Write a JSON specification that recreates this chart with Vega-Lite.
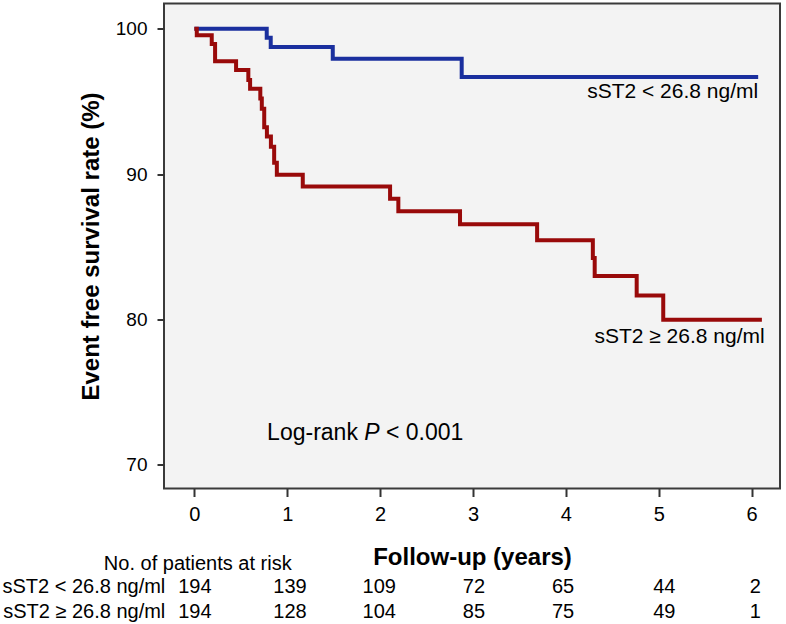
{
  "$schema": "https://vega.github.io/schema/vega-lite/v6.json",
  "autosize": "none",
  "width": 616,
  "height": 485,
  "padding": {"left": 164, "top": 3.5, "right": 6, "bottom": 135.5},
  "background": "white",
  "config": {
    "font": "Liberation Sans, Arial, sans-serif",
    "view": {"fill": "#f3f3f3", "stroke": "#3a3a3a", "strokeWidth": 2}
  },
  "datasets": {
    "curves": [
      {"group": "low", "t": 0, "s": 100},
      {"group": "low", "t": 0.779, "s": 99.39},
      {"group": "low", "t": 0.822, "s": 98.74},
      {"group": "low", "t": 1.49, "s": 97.94},
      {"group": "low", "t": 2.878, "s": 96.68},
      {"group": "low", "t": 6.07, "s": 96.68},
      {"group": "high", "t": 0, "s": 100},
      {"group": "high", "t": 0.026, "s": 99.55},
      {"group": "high", "t": 0.187, "s": 98.95},
      {"group": "high", "t": 0.223, "s": 97.76},
      {"group": "high", "t": 0.449, "s": 97.17},
      {"group": "high", "t": 0.581, "s": 96.48},
      {"group": "high", "t": 0.6, "s": 95.88},
      {"group": "high", "t": 0.71, "s": 95.2},
      {"group": "high", "t": 0.726, "s": 94.5},
      {"group": "high", "t": 0.752, "s": 93.23},
      {"group": "high", "t": 0.781, "s": 92.58},
      {"group": "high", "t": 0.824, "s": 91.88},
      {"group": "high", "t": 0.859, "s": 90.78},
      {"group": "high", "t": 0.888, "s": 89.95},
      {"group": "high", "t": 1.167, "s": 89.15},
      {"group": "high", "t": 2.107, "s": 88.31},
      {"group": "high", "t": 2.196, "s": 87.45},
      {"group": "high", "t": 2.86, "s": 86.54},
      {"group": "high", "t": 3.69, "s": 85.44},
      {"group": "high", "t": 4.29, "s": 84.22},
      {"group": "high", "t": 4.31, "s": 82.98},
      {"group": "high", "t": 4.762, "s": 81.65},
      {"group": "high", "t": 5.048, "s": 79.98},
      {"group": "high", "t": 6.11, "s": 79.98}
    ],
    "curveLabels": [
      {"t": 6.07, "s": 95.64, "label": "sST2 < 26.8 ng/ml"},
      {"t": 6.14, "s": 78.76, "label": "sST2 ≥ 26.8 ng/ml"}
    ],
    "logrank": [
      {"t": 0.783, "s": 72.15, "label": "Log-rank"},
      {"t": 2.063, "s": 72.15, "label": "< 0.001"}
    ],
    "logrankP": [
      {"t": 1.829, "s": 72.15, "label": "P"}
    ],
    "riskNumbers": [
      {"t": 0.005, "s": 61.56, "label": "194"},
      {"t": 1.03, "s": 61.56, "label": "139"},
      {"t": 1.99, "s": 61.56, "label": "109"},
      {"t": 3.01, "s": 61.56, "label": "72"},
      {"t": 3.97, "s": 61.56, "label": "65"},
      {"t": 5.06, "s": 61.56, "label": "44"},
      {"t": 6.04, "s": 61.56, "label": "2"},
      {"t": 0.005, "s": 59.87, "label": "194"},
      {"t": 1.03, "s": 59.87, "label": "128"},
      {"t": 1.99, "s": 59.87, "label": "104"},
      {"t": 3.01, "s": 59.87, "label": "85"},
      {"t": 3.97, "s": 59.87, "label": "75"},
      {"t": 5.06, "s": 59.87, "label": "49"},
      {"t": 6.04, "s": 59.87, "label": "1"}
    ],
    "riskLabels": [
      {"t": 1.048, "s": 63.19, "label": "No. of patients at risk"},
      {"t": -0.313, "s": 61.56, "label": "sST2 < 26.8 ng/ml"},
      {"t": -0.313, "s": 59.87, "label": "sST2 ≥ 26.8 ng/ml"}
    ]
  },
  "encoding": {
    "x": {
      "field": "t",
      "type": "quantitative",
      "scale": {"domain": [-0.327, 6.305], "nice": false, "zero": false},
      "axis": {
        "values": [0, 1, 2, 3, 4, 5, 6],
        "title": "Follow-up (years)",
        "titleFontSize": 24,
        "titleFontWeight": "bold",
        "titleColor": "#000000",
        "titlePadding": 21,
        "labelFontSize": 20,
        "labelColor": "#000000",
        "labelPadding": 8,
        "labelFlush": false,
        "tickSize": 8,
        "tickWidth": 2,
        "tickColor": "#333333",
        "domain": false,
        "grid": false
      }
    },
    "y": {
      "field": "s",
      "type": "quantitative",
      "scale": {"domain": [68.36, 101.74], "nice": false, "zero": false},
      "axis": {
        "values": [70, 80, 90, 100],
        "title": "Event free survival rate (%)",
        "titleFontSize": 24,
        "titleFontWeight": "bold",
        "titleColor": "#000000",
        "titlePadding": 12,
        "labelFontSize": 19,
        "labelColor": "#000000",
        "labelPadding": 10,
        "labelFlush": false,
        "tickSize": 7,
        "tickWidth": 2,
        "tickColor": "#333333",
        "domain": false,
        "grid": false
      }
    }
  },
  "layer": [
    {
      "data": {"name": "curves"},
      "mark": {"type": "line", "interpolate": "step-after", "strokeWidth": 4},
      "encoding": {
        "color": {
          "field": "group",
          "type": "nominal",
          "scale": {"domain": ["low", "high"], "range": ["#1a2f9e", "#990a0a"]},
          "legend": null
        }
      }
    },
    {
      "data": {"name": "curveLabels"},
      "mark": {"type": "text", "align": "right", "baseline": "middle", "fontSize": 21, "color": "#000000"},
      "encoding": {"text": {"field": "label"}}
    },
    {
      "data": {"name": "logrank"},
      "mark": {"type": "text", "align": "left", "baseline": "middle", "fontSize": 23, "color": "#000000"},
      "encoding": {"text": {"field": "label"}}
    },
    {
      "data": {"name": "logrankP"},
      "mark": {"type": "text", "align": "left", "baseline": "middle", "fontSize": 23, "fontStyle": "italic", "color": "#000000"},
      "encoding": {"text": {"field": "label"}}
    },
    {
      "data": {"name": "riskNumbers"},
      "mark": {"type": "text", "align": "center", "baseline": "middle", "fontSize": 20, "color": "#000000"},
      "encoding": {"text": {"field": "label"}}
    },
    {
      "data": {"name": "riskLabels"},
      "mark": {"type": "text", "align": "right", "baseline": "middle", "fontSize": 20, "color": "#000000"},
      "encoding": {"text": {"field": "label"}}
    }
  ]
}
